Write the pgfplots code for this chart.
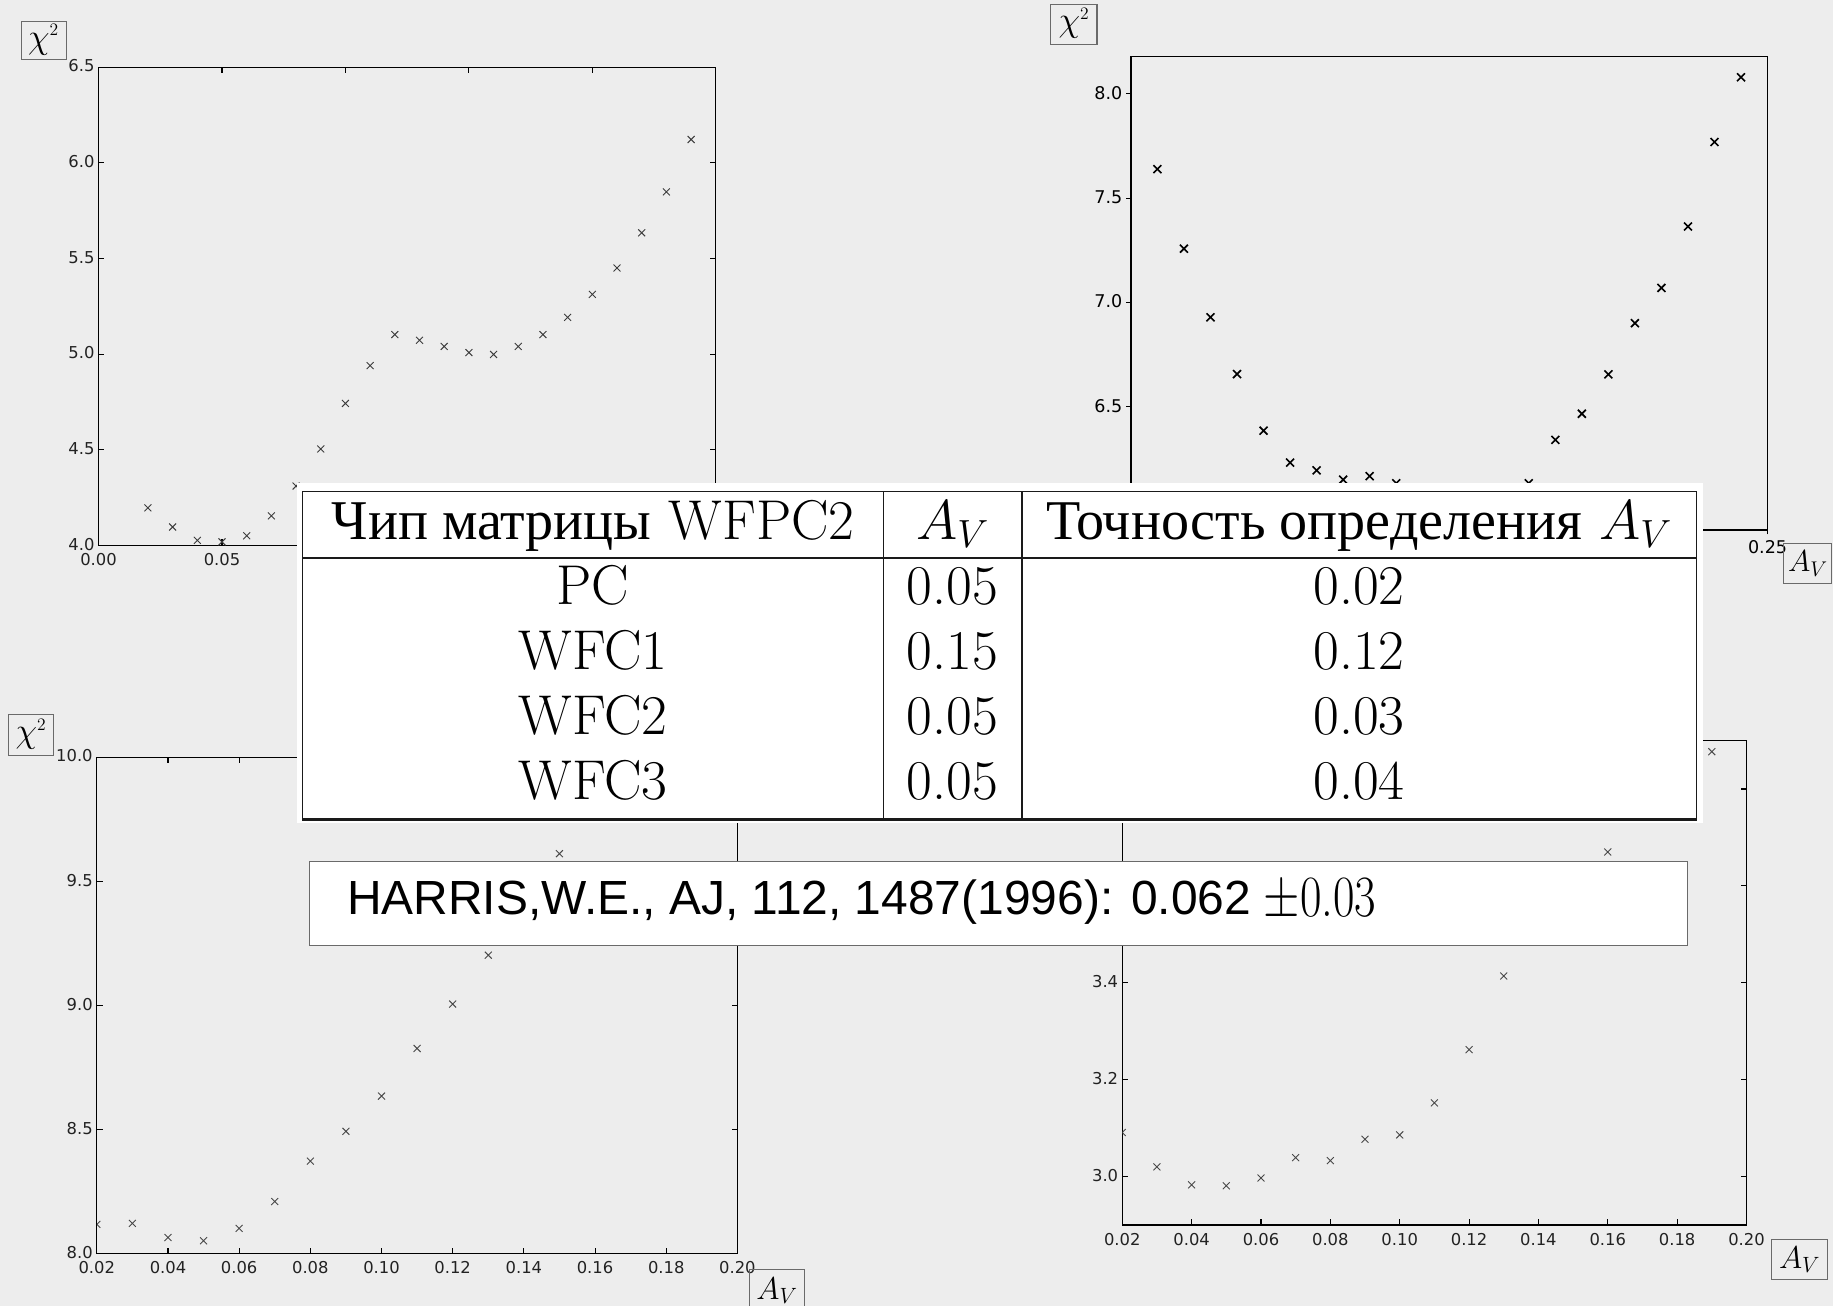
\RequirePackage{fix-cm}
\documentclass[border=0pt]{standalone}
\usepackage{fontspec}
\usepackage{pgfplots}
\pgfplotsset{compat=1.18}
\usepackage{pgfplotstable}
\newfontfamily\dejavu{DejaVu Sans}
\newfontfamily\cyr{Liberation Serif}
\newfontfamily\libsans{Liberation Sans}
\definecolor{bg}{HTML}{EDEDED}
\definecolor{tickc}{HTML}{222222}
\definecolor{mkA}{HTML}{3C3C3C}
\definecolor{mkB}{HTML}{484848}
\definecolor{boxc}{HTML}{6A6A6A}
\definecolor{tabc}{HTML}{1A1A1A}

\pgfplotsset{
  mplbase/.style={
    scale only axis,
    anchor=south west,
    axis line style={line width=1.1pt, black},
    tick style={line width=0.9pt, black},
    major tick length=5pt,
    ticklabel style={font=\fontsize{14}{14}\selectfont\dejavu, text=tickc},
    xticklabel style={yshift=-3.5pt},
    yticklabel style={yshift=1pt},
    /pgf/number format/assume math mode=true,
    /pgf/number format/fixed,
    /pgf/number format/fixed zerofill,
    scaled ticks=false,
    clip marker paths=true,
    minor tick num=0,
  },
  xtwo/.style={xticklabel style={/pgf/number format/precision=2}},
  yone/.style={yticklabel style={/pgf/number format/precision=1}},
}

\pgfplotstableread{
x y
0.02 4.196
0.03 4.096
0.04 4.026
0.05 4.018
0.06 4.050
0.07 4.154
0.08 4.310
0.09 4.504
0.10 4.742
0.11 4.940
0.12 5.102
0.13 5.072
0.14 5.040
0.15 5.008
0.16 4.998
0.17 5.040
0.18 5.102
0.19 5.192
0.20 5.312
0.21 5.450
0.22 5.634
0.23 5.848
0.24 6.122
}\tabPC

\pgfplotstableread{
x y
0.02 7.639
0.03 7.258
0.04 6.929
0.05 6.657
0.06 6.386
0.07 6.233
0.08 6.196
0.09 6.151
0.10 6.168
0.11 6.134
0.12 6.09
0.13 6.07
0.14 6.07
0.15 6.09
0.16 6.134
0.17 6.342
0.18 6.467
0.19 6.656
0.20 6.901
0.21 7.070
0.22 7.364
0.23 7.769
0.24 8.079
}\tabWFa

\pgfplotstableread{
x y
0.02 8.117
0.03 8.121
0.04 8.064
0.05 8.051
0.06 8.101
0.07 8.209
0.08 8.372
0.09 8.492
0.10 8.634
0.11 8.826
0.12 9.005
0.13 9.202
0.14 9.400
0.15 9.611
0.16 9.830
}\tabWFb

\pgfplotstableread{
x y
0.02 3.091
0.03 3.020
0.04 2.983
0.05 2.981
0.06 2.997
0.07 3.039
0.08 3.033
0.09 3.077
0.10 3.086
0.11 3.152
0.12 3.262
0.13 3.414
0.14 3.550
0.15 3.620
0.16 3.670
0.17 3.780
0.18 3.840
0.19 3.877
}\tabWFc

\begin{document}
\begin{tikzpicture}
\useasboundingbox (0pt,0pt) rectangle (1568pt,1117pt);
\fill[bg] (0pt,0pt) rectangle (1568pt,1117pt);

% top left
\begin{axis}[mplbase, yone,
  at={(84.3pt,650.5pt)}, width=528pt, height=409pt,
  xmin=0, xmax=0.25, ymin=4, ymax=6.5,
  xtick={0,0.05,0.10,0.15,0.20,0.25},
  xticklabels={0.00,0.05,,,,},
  ytick={4,4.5,5,5.5,6,6.5}]
\addplot[only marks, mark=x, mark size=4.2pt, mark options={line width=0.8pt, draw=mkA}] table[x=x,y=y] {\tabPC};
\end{axis}

% top right
\begin{axis}[mplbase, yone,
  at={(967.4pt,663.6pt)}, width=544.6pt, height=405.3pt,
  xmin=0.01, xmax=0.25, ymin=5.91, ymax=8.18,
  tick pos=left, tick align=outside, major tick length=3.8pt,
  ticklabel style={font=\fontsize{15}{15}\selectfont\dejavu, text=black},
  xticklabel style={yshift=1.5pt},
  xtick={0.25}, xticklabels={0.25},
  ytick={6.5,7,7.5,8}]
\addplot[only marks, mark=x, mark size=4.8pt, mark options={line width=1.4pt, draw=black}] table[x=x,y=y] {\tabWFa};
\end{axis}

% bottom left
\begin{axis}[mplbase, xtwo, yone,
  at={(82.8pt,44.8pt)}, width=548pt, height=424.5pt,
  xmin=0.02, xmax=0.20, ymin=8, ymax=10,
  xtick={0.02,0.04,0.06,0.08,0.10,0.12,0.14,0.16,0.18,0.20},
  ytick={8,8.5,9,9.5,10}]
\addplot[only marks, mark=x, mark size=4.2pt, mark options={line width=0.8pt, draw=mkB}] table[x=x,y=y] {\tabWFb};
\end{axis}

% bottom right
\begin{axis}[mplbase, xtwo,
  at={(960pt,69.1pt)}, width=534pt, height=414.4pt,
  xmin=0.02, xmax=0.20, ymin=2.9, ymax=3.9,
  xtick={0.02,0.04,0.06,0.08,0.10,0.12,0.14,0.16,0.18,0.20},
  ytick={3.0,3.2,3.4,3.6,3.8},
  yticklabels={3.0,3.2,3.4,,}]
\addplot[only marks, mark=x, mark size=4.2pt, mark options={line width=0.8pt, draw=mkB}] table[x=x,y=y] {\tabWFc};
\end{axis}

\begin{scope}[x=1pt,y=1pt]
% axis label boxes
\draw[boxc, line width=0.9pt] (18,1066) rectangle (56.5,1099);
\node at (37.2,1083) {\fontsize{30}{30}\selectfont$\chi^{\scriptscriptstyle 2}$};
\draw[boxc, line width=0.9pt] (899,1079) rectangle (938.4,1113.3);
\node at (918.7,1097) {\fontsize{30}{30}\selectfont$\chi^{\scriptscriptstyle 2}$};
\draw[boxc, line width=0.9pt] (7.1,470.6) rectangle (45.9,506);
\node at (26.5,489) {\fontsize{30}{30}\selectfont$\chi^{\scriptscriptstyle 2}$};
\draw[boxc, line width=0.9pt] (641.3,-2) rectangle (688,31.2);
\node at (664.6,13) {\fontsize{27}{27}\selectfont$A_V$};
\draw[boxc, line width=0.9pt] (1526,618) rectangle (1567,652.2);
\node at (1546.5,635) {\fontsize{26}{26}\selectfont$A_V$};
\draw[boxc, line width=0.9pt] (1515.4,22.3) rectangle (1563.5,57);
\node at (1539.4,39.5) {\fontsize{27}{27}\selectfont$A_V$};

% table
\fill[white] (254,413) rectangle (1457,704);
\draw[tabc, line width=1.2pt] (259,415.6) rectangle (1451,696.4);
\draw[tabc, line width=2.2pt] (259,639.7) -- (1451,639.7);
\draw[tabc, line width=2.2pt] (259,416.2) -- (1451,416.2);
\draw[tabc, line width=1.2pt] (755.6,415.6) -- (755.6,696.4);
\draw[tabc, line width=1.2pt] (874.2,415.6) -- (874.2,696.4);
\begin{scope}[every node/.style={anchor=base, inner sep=0pt, font=\fontsize{48}{48}\selectfont}]
\node at (507.3,655.6) {{\cyr Чип матрицы} WFPC2};
\node at (814.9,655.6) {$A_V$};
\node at (1162.6,655.6) {{\cyr Точность определения} $A_V$};
\node at (507.3,599.5) {PC};
\node at (814.9,599.5) {0.05};
\node at (1162.6,599.5) {0.02};
\node at (507.3,544.5) {WFC1};
\node at (814.9,544.5) {0.15};
\node at (1162.6,544.5) {0.12};
\node at (507.3,488.3) {WFC2};
\node at (814.9,488.3) {0.05};
\node at (1162.6,488.3) {0.03};
\node at (507.3,433.2) {WFC3};
\node at (814.9,433.2) {0.05};
\node at (1162.6,433.2) {0.04};
\end{scope}

% Harris box
\fill[white] (265,308) rectangle (1443.3,380);
\draw[boxc, line width=1pt] (265,308) rectangle (1443.3,380);
\node[anchor=base west, inner sep=0pt, font=\fontsize{41}{41}\selectfont\libsans] at (296.7,335)
  {HARRIS,W.E., AJ, 112, 1487(1996): 0.062};
\node[anchor=base west, inner sep=0pt] at (1081,333)
  {\scalebox{0.8}[1]{\fontsize{50}{50}\selectfont$\pm$0.03}};
\end{scope}
\end{tikzpicture}
\end{document}
